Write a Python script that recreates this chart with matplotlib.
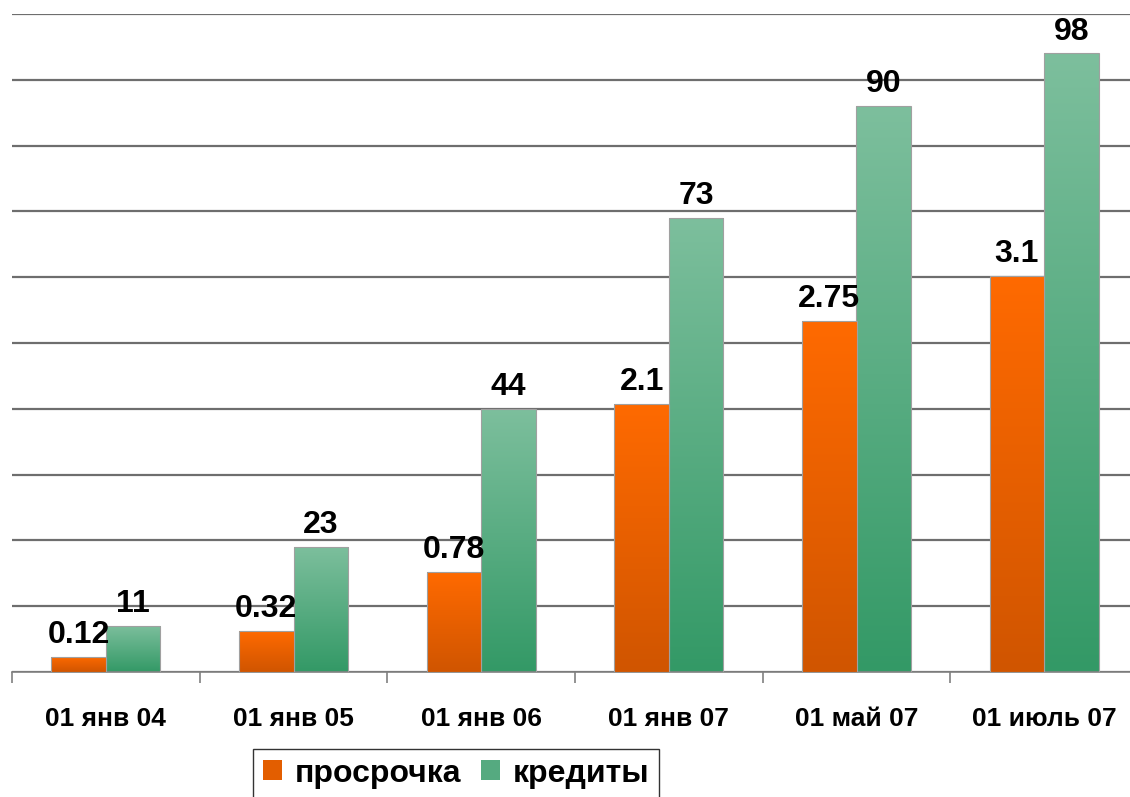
import numpy as np
import matplotlib
matplotlib.use("Agg")
import matplotlib.pyplot as plt
from matplotlib.colors import LinearSegmentedColormap
from matplotlib.patches import Patch

categories = ["01 янв 04", "01 янв 05", "01 янв 06", "01 янв 07", "01 май 07", "01 июль 07"]
overdue = [0.12, 0.32, 0.78, 2.1, 2.75, 3.1]
credits = [11, 23, 44, 73, 90, 98]
overdue_labels = ["0.12", "0.32", "0.78", "2.1", "2.75", "3.1"]
credit_labels = ["11", "23", "44", "73", "90", "98"]
series_names = ["просрочка", "кредиты"]

plt.rcParams['font.family'] = ['Liberation Sans', 'DejaVu Sans']

W, H = 1130, 797
fig = plt.figure(figsize=(W / 100, H / 100), dpi=100)
ax = fig.add_axes([12 / W, 125 / H, 1126 / W, 658 / H])
ax2 = ax.twinx()

orange_cmap = LinearSegmentedColormap.from_list("o", ["#D05500", "#FF6A00"])
green_cmap = LinearSegmentedColormap.from_list("g", ["#339966", "#7DBF9D"])

x = np.arange(len(categories))
bw = 0.29

def grad_bars(axis, xs, vals, cmap, base):
    bars = axis.bar(xs, [v - base for v in vals], bw, bottom=base, facecolor="none",
                    edgecolor="#A0A0A0", linewidth=0.8, zorder=3)
    grad = np.linspace(0, 1, 256).reshape(-1, 1)
    for b in bars:
        x0, y0 = b.get_x(), b.get_y()
        x1, y1 = x0 + b.get_width(), y0 + b.get_height()
        im = axis.imshow(grad, cmap=cmap, origin="lower", aspect="auto",
                         extent=[x0, x1, y0, y1], zorder=2, interpolation="bilinear")
        im.set_clip_path(b)
    return bars

grad_bars(ax, x + bw / 2, credits, green_cmap, 4)
grad_bars(ax2, x - bw / 2, overdue, orange_cmap, 0)

ax.set_xlim(-0.5, len(categories) - 0.5)
ax.set_ylim(4, 104)
ax2.set_ylim(0, 5.15)
ax2.set_xlim(-0.5, len(categories) - 0.5)

ax.set_yticks(np.arange(4, 105, 10))
ax.yaxis.grid(True, color="#6E6E6E", linewidth=1.6, zorder=0)
ax.set_axisbelow(True)
ax.tick_params(axis="y", left=False, labelleft=False)
ax2.tick_params(axis="y", right=False, labelright=False)
for a in (ax, ax2):
    for s in ("top", "right", "left"):
        a.spines[s].set_visible(False)
ax.spines["bottom"].set_color("#808080")
ax.spines["bottom"].set_linewidth(1.2)
ax2.spines["bottom"].set_visible(False)

ax.set_xticks(x)
ax.set_xticklabels(categories, fontsize=19, fontweight="bold")
ax.tick_params(axis="x", which="major", length=0, pad=25)
ax.set_xticks(np.arange(-0.5, len(categories), 1), minor=True)
ax.tick_params(axis="x", which="minor", length=8, color="#808080", width=1.2)

for xi, v, t in zip(x, credits, credit_labels):
    ax.annotate(t, (xi + bw / 2, v), xytext=(0, 5), textcoords="offset points",
                ha="center", va="bottom", fontsize=23, fontweight="bold", zorder=5)
for xi, v, t in zip(x, overdue, overdue_labels):
    ax2.annotate(t, (xi - bw / 2, v), xytext=(0, 5), textcoords="offset points",
                 ha="center", va="bottom", fontsize=23, fontweight="bold", zorder=5)

handles = [Patch(facecolor="#E35E00"), Patch(facecolor="#55AA80")]
leg = fig.legend(handles, series_names, loc="upper center",
                 bbox_to_anchor=(456 / W, 1 - 749 / H), ncol=2, frameon=True,
                 fancybox=False, edgecolor="black", prop={"size": 23, "weight": "bold"},
                 handlelength=0.6, handleheight=0.6, handletextpad=0.4, columnspacing=0.6,
                 borderpad=0.3, borderaxespad=0)
leg.get_frame().set_linewidth(1.0)

fig.savefig("out.png", dpi=100)
